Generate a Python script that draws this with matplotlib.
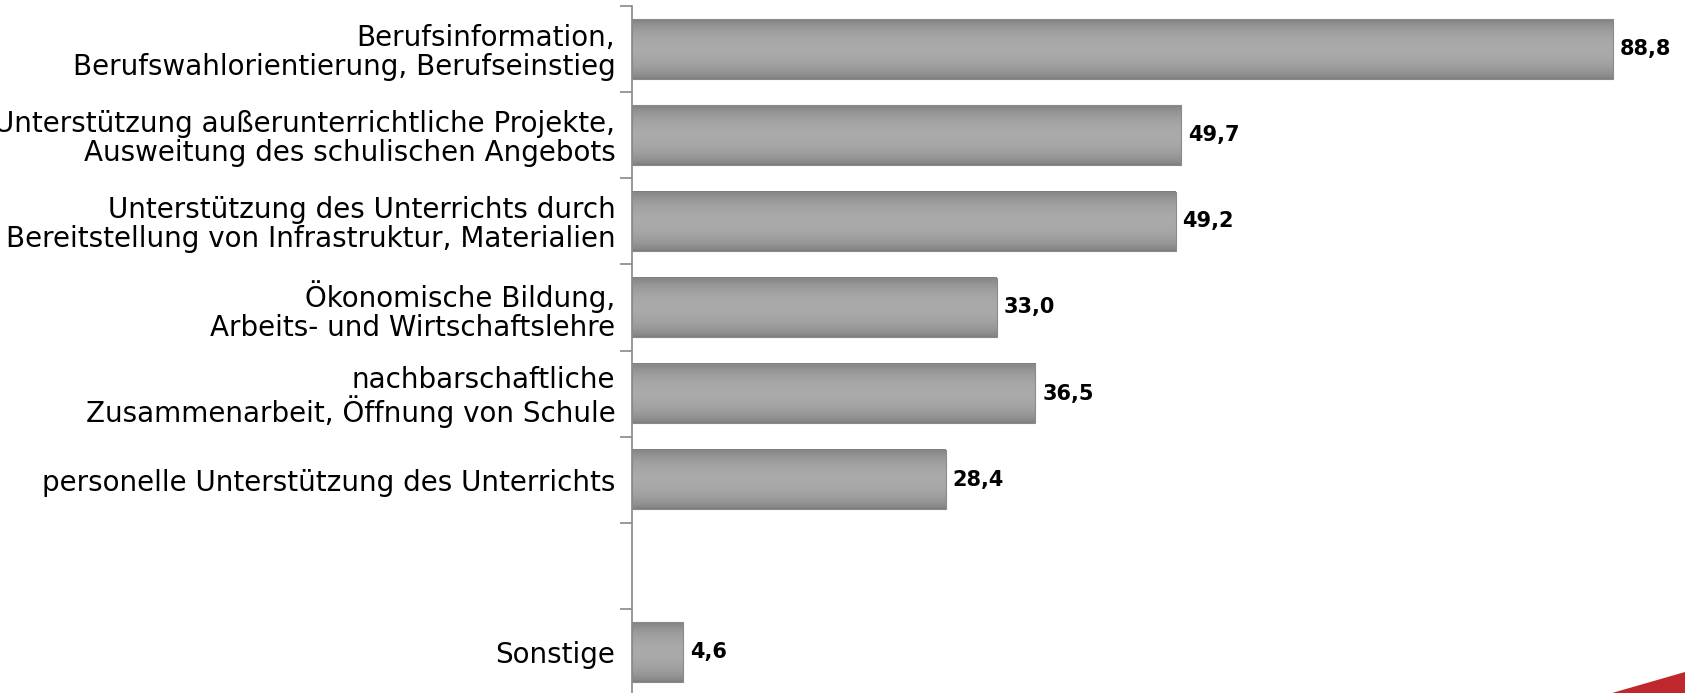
import matplotlib
matplotlib.use("Agg")
import matplotlib.pyplot as plt
import numpy as np
from matplotlib.colors import LinearSegmentedColormap
from matplotlib.patches import Polygon

categories = [
    "Berufsinformation,\nBerufswahlorientierung, Berufseinstieg",
    "Unterstützung außerunterrichtliche Projekte,\nAusweitung des schulischen Angebots",
    "Unterstützung des Unterrichts durch\nBereitstellung von Infrastruktur, Materialien",
    "Ökonomische Bildung,\nArbeits- und Wirtschaftslehre",
    "nachbarschaftliche\nZusammenarbeit, Öffnung von Schule",
    "personelle Unterstützung des Unterrichts",
    "",
    "Sonstige",
]
values = [88.8, 49.7, 49.2, 33.0, 36.5, 28.4, None, 4.6]

fig = plt.figure(figsize=(16.85, 6.93), dpi=100)
ax = fig.add_axes([632 / 1685, -2 / 693, 1 - 632 / 1685, 689 / 693])

pos = np.arange(len(categories))
idx = [i for i, v in enumerate(values) if v is not None]
vals = [values[i] for i in idx]

bars = ax.barh(idx, vals, height=0.69, facecolor="none",
               edgecolor="#8a8a8a", linewidth=0.8, zorder=3)

# vertical gradient inside every bar
t = np.linspace(0, 1, 200)
grad = (np.sin(np.pi * t) ** 0.6).reshape(-1, 1)
cmap = LinearSegmentedColormap.from_list("bar", ["#7b7b7b", "#aaaaaa"])
for b in bars:
    x0, y0, w, h = b.get_x(), b.get_y(), b.get_width(), b.get_height()
    ax.imshow(grad, cmap=cmap, extent=(x0, x0 + w, y0 + h, y0),
              aspect="auto", zorder=2, interpolation="bilinear")

for i, v in zip(idx, vals):
    ax.annotate(f"{v:.1f}".replace(".", ","), xy=(v, i), xytext=(5, 0),
                textcoords="offset points", va="center", ha="left",
                fontsize=15, fontweight="bold", family="DejaVu Sans")

ax.set_xlim(0, 95.3)
ax.set_ylim(len(categories) - 0.5, -0.5)

ax.set_yticks(pos)
ax.set_yticklabels(categories, fontsize=20, family="DejaVu Sans", linespacing=1.05)
ax.set_yticks(np.arange(len(categories) + 1) - 0.5, minor=True)
ax.tick_params(axis="y", which="major", length=0, pad=12)
ax.tick_params(axis="y", which="minor", length=9, width=1.2, color="#888888", direction="out")
ax.set_xticks([])

for s in ["top", "right", "bottom"]:
    ax.spines[s].set_visible(False)
ax.spines["left"].set_color("#888888")
ax.spines["left"].set_linewidth(1.2)

# red corner decoration
fig.patches.append(Polygon([(1612 / 1685, 0), (1, 21 / 693), (1, 0)],
                           closed=True, transform=fig.transFigure,
                           facecolor="#c0272d", edgecolor="none"))

fig.savefig("out.png", dpi=100)
